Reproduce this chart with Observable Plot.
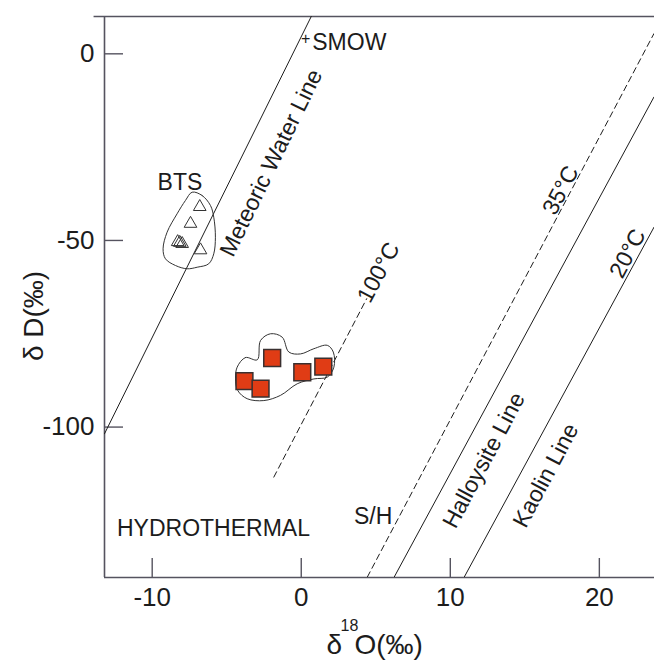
<!DOCTYPE html>
<html><head><meta charset="utf-8">
<script src="https://cdn.jsdelivr.net/npm/d3@7"></script>
<script src="https://cdn.jsdelivr.net/npm/@observablehq/plot@0.6"></script>
<style>html,body{margin:0;padding:0;background:#fff;}</style>
</head><body><div id="chart"></div>
<script>
// ---- axis domains and ticks ----
const xDomain = [-13.2, 23.7];
const yDomain = [-140.3, 10];
const xTicks = [-10, 0, 10, 20];
const yTicks = [0, -50, -100];

// ---- samples ----
const btsX = [-6.81, -7.43, -8.29, -8.15, -7.99, -6.76];
const btsY = [-41.0, -45.5, -50.4, -50.6, -50.9, -52.6];
const sampleX = [-3.81, -2.73, -1.95, 0.07, 1.48];
const sampleY = [-87.7, -89.7, -81.5, -85.3, -83.8];

// ---- envelopes ----
const btsEnvX = [-7.32, -6.65, -6.09, -5.87, -5.76, -5.87, -6.21, -6.98, -7.66, -8.44, -9.11, -9.27, -9.0, -8.33, -7.77];
const btsEnvY = [-37.07, -37.96, -40.64, -43.77, -49.13, -53.58, -56.26, -57.17, -57.59, -56.71, -54.92, -52.24, -47.79, -42.86, -39.30];
const smpEnvX = [-4.30, -3.74, -2.95, -2.73, -2.06, -1.28, -0.83, -0.05, 0.85, 1.75, 2.15, 2.19, 1.75, 0.85, -0.27, -1.39, -2.51, -3.63, -4.26, -4.41];
const smpEnvY = [-83.95, -81.35, -81.97, -76.8, -75.0, -75.9, -79.9, -80.4, -79.0, -78.1, -79.9, -83.95, -86.6, -87.1, -88.4, -91.5, -92.9, -92.4, -90.2, -87.1];

// ---- reference lines (end points) ----
const mwlX = [-13.2, 0.67],  mwlY = [-101.8, 10];
const t100X = [-1.84, 4.39], t100Y = [-113.4, -65.6];
const t35X = [4.43, 23.66],  t35Y = [-140.2, 5.4];
const halX = [6.22, 23.66],  halY = [-140.3, -11.6];
const kaoX = [10.92, 23.66], kaoY = [-140.3, -46.5];

// ---- annotations ----
const rotLabels = ["Meteoric Water Line", "100°C", "35°C", "20°C", "Halloysite Line", "Kaolin Line"];
const rotLabelX = [-2.01, 5.19, 17.41, 21.91, 12.26, 16.41];
const rotLabelY = [-29.25, -58.6, -36.6, -53.5, -108.9, -112.96];
const rotLabelAngle = [-64, -62, -62, -62, -62, -62];
const flatLabels = ["BTS", "HYDROTHERMAL", "S/H"];
const flatLabelX = [-8.14, -5.89, 4.82];
const flatLabelY = [-34.4, -127.1, -124.1];

const pts = (xs, ys) => xs.map((x, i) => ({x, y: ys[i]}));
const fmt = d => d < 0 ? "-" + Math.abs(d) : String(d);
const axisColor = "#55535f";
const ink = "#1c1c1c";
const frameW = 654 - 104, frameH = 661 - 16 - 84, tickLen = 19;

const plot = Plot.plot({
  width: 654, height: 661,
  marginLeft: 104, marginRight: 0, marginTop: 16, marginBottom: 84,
  style: {fontFamily: "'Liberation Sans', Arial, Helvetica, sans-serif", background: "#fff", color: ink},
  x: {domain: xDomain, axis: null},
  y: {domain: yDomain, axis: null},
  marks: [
    // frame
    Plot.ruleX([xDomain[0]], {stroke: axisColor, strokeWidth: 1.6}),
    Plot.ruleY([yDomain[0]], {stroke: axisColor, strokeWidth: 1.6}),
    Plot.ruleY([yDomain[1]], {x1: xDomain[0] - 0.7, x2: xDomain[1], stroke: axisColor, strokeWidth: 1.6}),
    // inward ticks
    Plot.tickX(xTicks, {x: d => d, insetTop: frameH - tickLen, stroke: axisColor, strokeWidth: 1.4}),
    Plot.tickY(yTicks, {y: d => d, insetRight: frameW - tickLen, stroke: axisColor, strokeWidth: 1.4}),
    // tick labels
    Plot.axisX({ticks: xTicks, anchor: "bottom", tickSize: 0, tickPadding: 10, fontSize: 26, tickFormat: fmt, label: null, stroke: "none"}),
    Plot.axisY({ticks: yTicks, anchor: "left", tickSize: 0, tickPadding: 10, fontSize: 26, tickFormat: fmt, label: null, stroke: "none"}),
    // reference lines
    Plot.line(pts(mwlX, mwlY), {x: "x", y: "y", stroke: ink, strokeWidth: 1, clip: true}),
    Plot.line(pts(t100X, t100Y), {x: "x", y: "y", stroke: ink, strokeWidth: 1, strokeDasharray: "6,4", clip: true}),
    Plot.line(pts(t35X, t35Y), {x: "x", y: "y", stroke: ink, strokeWidth: 1, strokeDasharray: "6,4", clip: true}),
    Plot.line(pts(halX, halY), {x: "x", y: "y", stroke: ink, strokeWidth: 1, clip: true}),
    Plot.line(pts(kaoX, kaoY), {x: "x", y: "y", stroke: ink, strokeWidth: 1, clip: true}),
    // envelopes
    Plot.line(pts(btsEnvX, btsEnvY), {x: "x", y: "y", curve: "catmull-rom-closed", stroke: "#333", strokeWidth: 1}),
    Plot.line(pts(smpEnvX, smpEnvY), {x: "x", y: "y", curve: "catmull-rom-closed", stroke: "#333", strokeWidth: 1}),
    // samples
    Plot.dot(pts(btsX, btsY), {x: "x", y: "y", symbol: "triangle", r: 4.7, stroke: "#333", fill: "none", strokeWidth: 1}),
    Plot.dot(pts(sampleX, sampleY), {x: "x", y: "y", symbol: "square", r: 9.5, fill: "#e03c15", stroke: "#3a3030", strokeWidth: 1.5}),
    // annotations
    Plot.text(rotLabels, {x: (d, i) => rotLabelX[i], y: (d, i) => rotLabelY[i], rotate: (d, i) => rotLabelAngle[i], text: d => d, fontSize: 23, fill: ink}),
    Plot.text(flatLabels, {x: (d, i) => flatLabelX[i], y: (d, i) => flatLabelY[i], text: d => d, fontSize: 23, fill: ink}),
    Plot.text(["SMOW"], {x: 0.74, y: 3.1, text: d => d, textAnchor: "start", fontSize: 23, fill: ink}),
    Plot.text(["+"], {x: 0.3, y: 4.0, text: d => d, fontSize: 16, fill: ink}),
    // axis titles: δ, superscript 18, O(‰)
    Plot.text(["δ"], {frameAnchor: "bottom", textAnchor: "start", dx: -53, dy: 76, lineAnchor: "bottom", text: d => d, fontSize: 28, fill: ink}),
    Plot.text(["18"], {frameAnchor: "bottom", textAnchor: "start", dx: -39, dy: 53, lineAnchor: "bottom", text: d => d, fontSize: 16, fill: ink}),
    Plot.text(["O(‰)"], {frameAnchor: "bottom", textAnchor: "start", dx: -25, dy: 76, lineAnchor: "bottom", text: d => d, fontSize: 28, fill: ink}),
    Plot.text(["δ D(‰)"], {frameAnchor: "left", textAnchor: "middle", rotate: -90, dx: -62, dy: 19, lineAnchor: "bottom", text: d => d, fontSize: 28, fill: ink})
  ]
});
document.getElementById("chart").appendChild(plot);
</script>
</body></html>
